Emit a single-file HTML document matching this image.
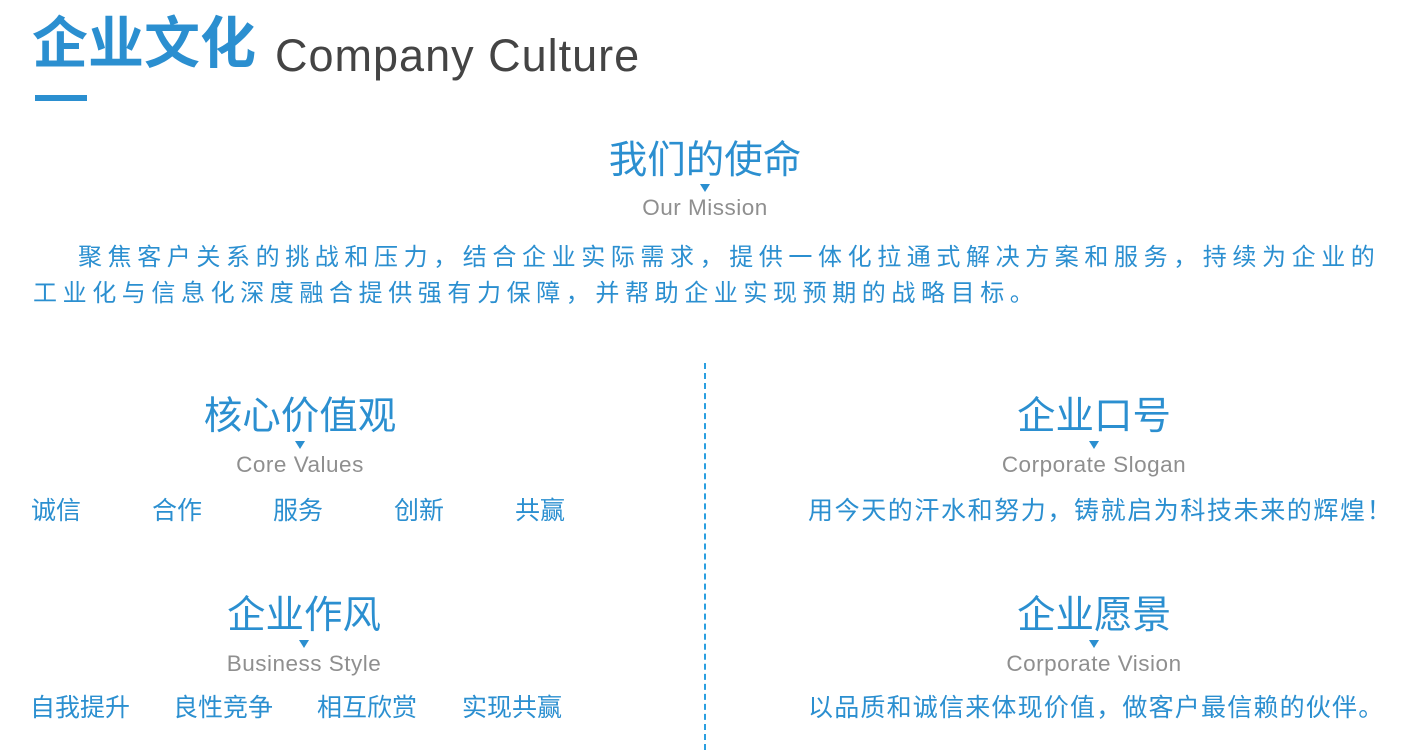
<!DOCTYPE html>
<html><head><meta charset="utf-8"><style>
html,body{margin:0;padding:0;}
body{width:1406px;height:750px;background:#fff;position:relative;overflow:hidden;font-family:"Liberation Sans","Noto Sans CJK SC",sans-serif;color:#2b8fd0;}
.a{position:absolute;white-space:nowrap;line-height:1;}
.c{transform:translateX(-50%);text-align:center;}
.h{font-size:38.5px;}
.e{font-size:22.5px;color:#8f8f8f;letter-spacing:0.5px;}
.t{position:absolute;width:0;height:0;border-left:5px solid transparent;border-right:5px solid transparent;border-top:8px solid #2b8fd0;transform:translateX(-50%);}
.i{font-size:25px;}
</style></head><body>
<div class="a" style="left:32px;top:16px;font-size:56px;font-weight:bold;">企业文化</div>
<div class="a" style="left:275px;top:33px;font-size:45px;color:#444;letter-spacing:1px;">Company Culture</div>
<div class="a" style="left:35px;top:95px;width:52px;height:6px;background:#2b8fd0;"></div>

<div class="a c h" style="left:705px;top:142px;">我们的使命</div>
<div class="t" style="left:705px;top:184px;"></div>
<div class="a c e" style="left:705px;top:197px;">Our Mission</div>

<div class="a" style="left:78px;top:246px;font-size:24px;letter-spacing:5.6px;">聚焦客户关系的挑战和压力，结合企业实际需求，提供一体化拉通式解决方案和服务，持续为企业的</div>
<div class="a" style="left:33px;top:282px;font-size:24px;letter-spacing:5.6px;">工业化与信息化深度融合提供强有力保障，并帮助企业实现预期的战略目标。</div>

<div class="a" style="left:704px;top:363px;height:387px;border-left:2px dashed #2b9fe0;"></div>

<div class="a c h" style="left:300px;top:398px;">核心价值观</div>
<div class="t" style="left:300px;top:441px;"></div>
<div class="a c e" style="left:300px;top:454px;">Core Values</div>
<div class="a i" style="left:31px;top:499px;">诚信</div>
<div class="a i" style="left:152px;top:499px;">合作</div>
<div class="a i" style="left:273px;top:499px;">服务</div>
<div class="a i" style="left:394px;top:499px;">创新</div>
<div class="a i" style="left:515px;top:499px;">共赢</div>

<div class="a c h" style="left:304px;top:597px;">企业作风</div>
<div class="t" style="left:304px;top:640px;"></div>
<div class="a c e" style="left:304px;top:653px;">Business Style</div>
<div class="a i" style="left:30px;top:696px;">自我提升</div>
<div class="a i" style="left:173px;top:696px;">良性竞争</div>
<div class="a i" style="left:317px;top:696px;">相互欣赏</div>
<div class="a i" style="left:462px;top:696px;">实现共赢</div>

<div class="a c h" style="left:1094px;top:398px;">企业口号</div>
<div class="t" style="left:1094px;top:441px;"></div>
<div class="a c e" style="left:1094px;top:454px;">Corporate Slogan</div>
<div class="a" style="left:808px;top:499px;font-size:25px;letter-spacing:1.6px;">用今天的汗水和努力，铸就启为科技未来的辉煌！</div>

<div class="a c h" style="left:1094px;top:597px;">企业愿景</div>
<div class="t" style="left:1094px;top:640px;"></div>
<div class="a c e" style="left:1094px;top:653px;">Corporate Vision</div>
<div class="a" style="left:808px;top:696px;font-size:25px;letter-spacing:1.2px;">以品质和诚信来体现价值，做客户最信赖的伙伴。</div>
</body></html>
